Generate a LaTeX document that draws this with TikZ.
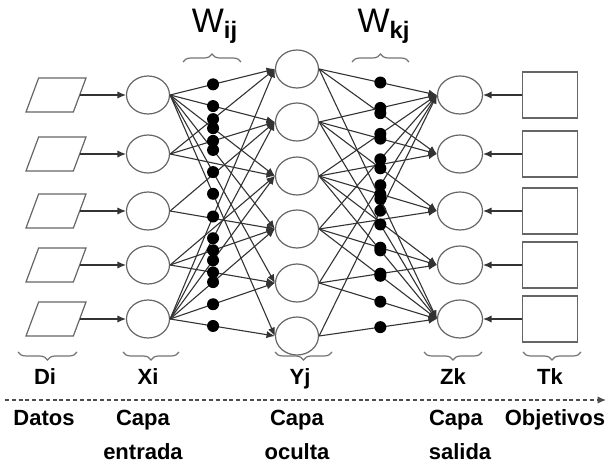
\documentclass[tikz,border=0pt]{standalone}
\usepackage{fontspec}
\setmainfont{Liberation Sans}
\usetikzlibrary{arrows.meta,shapes.geometric,decorations.pathreplacing}

\begin{document}
\begin{tikzpicture}[x=0.5pt,y=-0.5pt,line width=0.6pt,>={Latex[length=4.2pt,width=3.6pt]},
  neuron/.style={draw=black!60,ellipse,inner sep=0pt,minimum width=21.5pt,minimum height=19pt},
  datum/.style={draw=black!60,trapezium,trapezium stretches=true,trapezium left angle=70,
    trapezium right angle=110,inner sep=1pt,minimum width=30pt,minimum height=17pt},
  target/.style={draw=black!60,rectangle,inner sep=0pt,minimum width=27.5pt,minimum height=23pt},
  wdot/.style={circle,fill=black,inner sep=0pt,minimum size=6pt},
  conn/.style={->,line width=0.55pt,black!80},
  brc/.style={decorate,decoration={brace,amplitude=4pt},draw=black!55,line width=0.6pt},
  lbl/.style={font=\bfseries\fontsize{11}{13}\selectfont,inner sep=0pt,anchor=base},
  wlbl/.style={font=\fontsize{17}{19}\selectfont,inner sep=0pt,anchor=base}]
\useasboundingbox (0,0) rectangle (607,465);
% ---------- data, input layer, output layer, targets ----------
\foreach \r [count=\i] in {95,154,211,265,319} {
  \node[datum] (d\i) at (56,\r) {};
  \node[neuron] (x\i) at (148,\r) {};
  \node[neuron,minimum width=22.5pt] (z\i) at (460,\r) {};
  \node[target] (t\i) at (550,\r) {};
  \draw[conn] (d\i) -- (x\i);
  \draw[conn] (t\i) -- (z\i);
}
% ---------- hidden layer ----------
\foreach \r [count=\j] in {69,122,176,229,283,336}
  \node[neuron] (y\j) at (297,\r) {};
% weights W_ij
\foreach \i/\j in {2/3,3/2,3/4,4/3}
  \draw[conn] (x\i.east) -- (y\j.west);
\foreach \i/\j in {1/1,1/2,1/3,1/4,1/5,1/6,5/1,5/2,5/3,5/4,5/5,5/6,2/1,2/2,4/4,4/5}
  \draw[conn] (x\i.east) -- node[wdot,pos=0.41] (wij\i\j) {} (y\j.west);
% weights W_kj
\foreach \j/\k in {3/2,4/3,3/4}
  \draw[conn] (y\j.east) -- (z\k.west);
\foreach \j/\k in {1/1,2/1,3/1,4/1,5/1,6/1,1/5,2/5,3/5,4/5,5/5,6/5,1/2,2/2,2/3,3/3,4/4,5/4}
  \draw[conn] (y\j.east) -- node[wdot,pos=0.52] (wkj\j\k) {} (z\k.west);
% ---------- braces and labels ----------
\draw[brc] (183,62) -- (241,62);
\draw[brc] (352,62) -- (409,62);
\node[wlbl] (wij) at (215,33) {W\textsubscript{\textbf{ij}}};
\node[wlbl] (wkj) at (384,33) {W\textsubscript{\textbf{kj}}};
\draw[brc] (77,352) -- (18,352);
\draw[brc] (179,352) -- (123,352);
\draw[brc] (332,352) -- (275,352);
\draw[brc] (482,352) -- (424,352);
\draw[brc] (581,352) -- (523,352);
\node[lbl] (di) at (45,385) {Di};
\node[lbl] (xi) at (148,385) {Xi};
\node[lbl] (yj) at (300,385) {Yj};
\node[lbl] (zk) at (453,385) {Zk};
\node[lbl] (tk) at (550,385) {Tk};
% ---------- flow axis ----------
\coordinate (axs) at (5,400);
\coordinate (axe) at (606,400);
\draw[->,black!70,dash pattern=on 2pt off 1.4pt] (axs) -- (axe);
\node[lbl] (datos) at (44,426) {Datos};
\node[lbl] (capa1) at (143,426) {Capa};
\node[lbl] (entrada) at (143,460) {entrada};
\node[lbl] (capa2) at (297,426) {Capa};
\node[lbl] (oculta) at (297,460) {oculta};
\node[lbl] (capa3) at (456,426) {Capa};
\node[lbl] (salida) at (460,460) {salida};
\node[lbl] (obj) at (555,426) {Objetivos};
\end{tikzpicture}
\end{document}
